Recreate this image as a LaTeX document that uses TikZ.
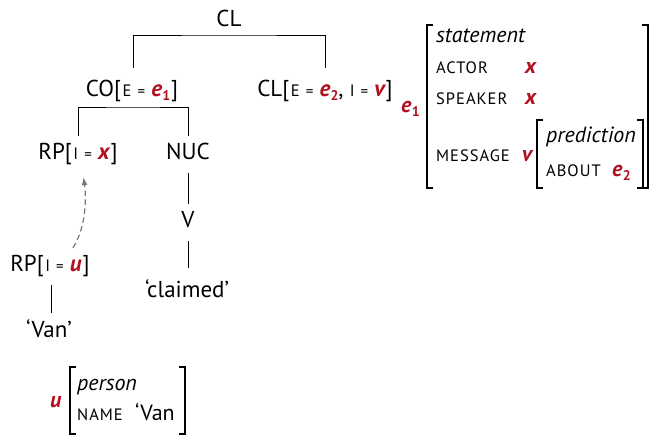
\documentclass[tikz,border=0pt]{standalone}
\usepackage{fontspec}
\setmainfont{PT Sans}
\newfontfamily\scfont[LetterSpace=6.0]{PT Sans}
\usetikzlibrary{arrows.meta}
\definecolor{varred}{RGB}{178,16,32}
\definecolor{linkgray}{RGB}{120,120,120}
% small capitals, variables and indexed variables
\newcommand\fsc[1]{{\scfont\fontsize{16.5}{18}\selectfont #1}}
\newcommand\avar[1]{\textcolor{varred}{\bfseries\itshape #1}}
\newcommand\asub[2]{\textcolor{varred}{\bfseries\itshape #1\kern0.3pt\raisebox{-3.5pt}{\upshape\fontsize{14}{14}\selectfont #2}}}
\newcommand\feq{{\fontsize{15}{16}\selectfont =}}
\newcommand\obr{[\kern1.5pt}
\newcommand\cbr{\kern1pt]}
\begin{document}
\begin{tikzpicture}[x=1pt,y=-1pt,
  every node/.style={font=\fontsize{22}{26}\selectfont, inner sep=0pt},
  lab/.style={anchor=base, font=\fontsize{23}{27}\selectfont,
    inner ysep=8pt, text height=16pt, text depth=5pt},
  txt/.style={anchor=base west},
  branch/.style={line width=0.8pt},
  brk/.style={line width=1.5pt},
  link/.style={linkgray, line width=1.2pt, dash pattern=on 5.5pt off 3.5pt,
    -{Latex[length=8pt,width=6pt]}, shorten >=4pt}]
\useasboundingbox (0,0) rectangle (652,435);

% tree
\node[lab] (top) at (229,27) {CL};
\node[lab, inner ysep=13pt] (co) at (132,97) {CO\obr\fsc{E} \feq{} \asub{e}{1}\cbr};
\node[lab, inner ysep=13pt] (cl2) at (325,97) {CL\obr\fsc{E} \feq{} \asub{e}{2}, \fsc{I} \feq{} \avar{v}\cbr};
\node[lab] (rpx) at (78,160) {RP\obr\fsc{I} \feq{} \avar{x}\cbr};
\node[lab] (nuc) at (188,160) {NUC};
\node[lab] (v) at (188,228) {V};
\node[lab, inner ysep=13pt] (claimed) at (187,297) {`claimed'};
\node[lab] (rpu) at (50,272) {RP\obr\fsc{I} \feq{} \avar{u}\cbr};
\node[lab] (van) at (49,337) {`Van'};
\coordinate (j1) at (229,35);
\coordinate (j2) at (133,107);

\draw[branch] ([xshift=1pt]co.north) |- (j1) -| (cl2.north);
\draw[branch] (rpx.north) |- (j2) -| (nuc.north);
\draw[branch] (nuc.south) -- (v.north);
\draw[branch] (v.south) -- ([xshift=1pt]claimed.north);
\draw[branch] ([xshift=1pt]rpu.south) -- ([xshift=2pt]van.north);
\draw[link] ([xshift=23pt]rpu.north) .. controls +(14,-22) and +(3,22) .. ([xshift=5pt]rpx.south);

% structure for e1
\node[txt] (e1) at (401,113) {\asub{e}{1}};
\draw[brk] (433,25) -| (427,188) -- (433,188);
\draw[brk] (642,25) -| (648,188) -- (642,188);
\node[txt] (stm) at (436,43) {\itshape statement};
\node[txt] (actor) at (436,74) {\fsc{ACTOR}};
\node[txt] (actorv) at (525,74) {\avar{x}};
\node[txt] (speaker) at (436,105) {\fsc{SPEAKER}};
\node[txt] (speakerv) at (525,105) {\avar{x}};
\node[txt] (msg) at (436,162) {\fsc{MESSAGE}};
\node[txt] (msgv) at (522,162) {\avar{v}};
\draw[brk] (543,120) -| (537,188) -- (543,188);
\draw[brk] (637,120) -| (643,188) -- (637,188);
\node[txt] (pred) at (546,143) {\itshape prediction};
\node[txt] (about) at (546,177) {\fsc{ABOUT}};
\node[txt] (aboutv) at (612,177) {\asub{e}{2}};

% structure for u
\node[txt] (u) at (50,407) {\avar{u}};
\draw[brk] (76,367) -| (70,434) -- (76,434);
\draw[brk] (179,367) -| (185,434) -- (179,434);
\node[txt] (pers) at (77,390) {\itshape person};
\node[txt] (name) at (77,420) {\fsc{NAME}};
\node[txt] (namev) at (135,420) {`Van};
\end{tikzpicture}
\end{document}
